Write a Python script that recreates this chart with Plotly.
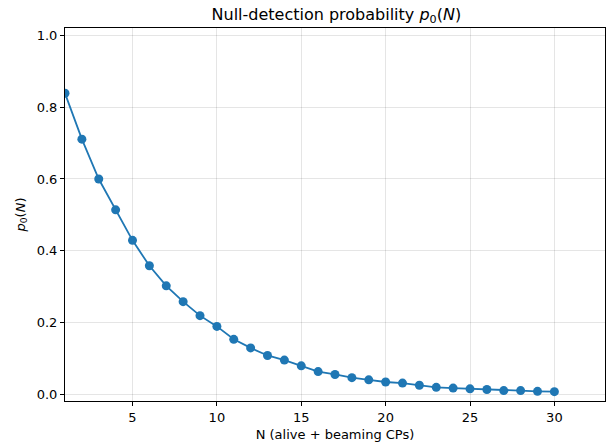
import plotly.graph_objects as go

# Number of alive + beaming CPs
n_values = list(range(1, 31))
# Null-detection probability p0(N)
p0_values = [0.839, 0.711, 0.600, 0.514, 0.429, 0.358, 0.302, 0.258, 0.219, 0.189,
             0.153, 0.129, 0.108, 0.095, 0.079, 0.063, 0.055, 0.046, 0.040, 0.034,
             0.031, 0.025, 0.019, 0.017, 0.015, 0.013, 0.010, 0.010, 0.008, 0.007]
x_ticks = [5, 10, 15, 20, 25, 30]
y_ticks = [0.0, 0.2, 0.4, 0.6, 0.8, 1.0]

blue = "#1f77b4"
font = "DejaVu Sans"

fig = go.Figure()
fig.add_trace(go.Scatter(
    x=n_values, y=p0_values, mode="lines+markers",
    line=dict(color=blue, width=1.8),
    marker=dict(color=blue, size=9),
    showlegend=False,
))

axis_common = dict(
    showline=True, linecolor="black", linewidth=1, mirror=True,
    ticks="outside", ticklen=4, tickcolor="black", tickwidth=1,
    showgrid=True, gridcolor="rgba(0,0,0,0.1)", gridwidth=1,
    zeroline=False,
    tickfont=dict(family=font, size=13, color="black"),
)

fig.update_layout(
    width=606, height=445,
    margin=dict(l=65, r=1, t=28, b=44),
    plot_bgcolor="white", paper_bgcolor="white",
    font=dict(family=font, color="black"),
    title=dict(
        text="Null-detection probability <i>p</i><sub>0</sub>(<i>N</i>)",
        x=0.555, xanchor="center", y=0.968, yanchor="middle",
        font=dict(family=font, size=16, color="black"),
    ),
    xaxis=dict(
        range=[1, 33], tickvals=x_ticks,
        title=dict(text="N (alive + beaming CPs)", standoff=6,
                   font=dict(family=font, size=13, color="black")),
        **axis_common,
    ),
    yaxis=dict(
        range=[-0.019, 1.021], tickvals=y_ticks, tickformat=".1f",
        title=dict(text="<i>p</i><sub>0</sub>(<i>N</i>)", standoff=8,
                   font=dict(family=font, size=13, color="black")),
        **axis_common,
    ),
)

fig.write_html("out.html")
